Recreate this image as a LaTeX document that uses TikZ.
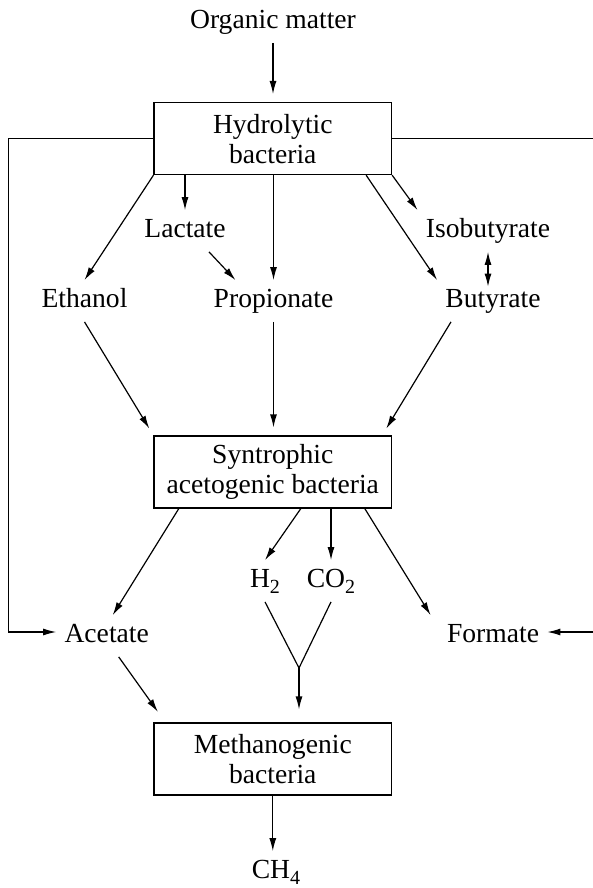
\documentclass[tikz,border=0pt]{standalone}
\usepackage{fontspec}
\setmainfont{Liberation Serif}
\usetikzlibrary{arrows.meta}
\newcommand{\chemsub}[1]{\raisebox{-0.45ex}{\fontsize{10}{10}\selectfont #1}}
\begin{document}
\begin{tikzpicture}[
    x=0.5pt, y=-0.5pt,
    box/.style={draw, line width=0.6pt, minimum width=118.75pt, minimum height=36pt, inner sep=0pt, align=center, font=\fontsize{13.8}{15}\selectfont},
    lbl/.style={inner sep=4pt, text height=9.5pt, text depth=3pt, font=\fontsize{13.8}{15}\selectfont},
    arrow/.style={-{Latex[length=6.5pt, width=3.5pt]}, line width=0.6pt},
    dblarrow/.style={{Latex[length=6.5pt, width=3.5pt]}-{Latex[length=6.5pt, width=3.5pt]}, line width=0.6pt},
    tobox/.style={arrow, shorten >=4pt}
]
    \useasboundingbox (0,0) rectangle (593,888);

    \node[lbl] (org) at (273, 22) {Organic matter};
    \node[box] (hyd) at (272.8, 138.6) {Hydrolytic\\bacteria};
    \node[lbl] (lac) at (185, 231) {Lactate};
    \node[lbl] (iso) at (488, 231) {Isobutyrate};
    \node[lbl] (eth) at (84.5, 301) {Ethanol};
    \node[lbl] (pro) at (273.5, 301) {Propionate};
    \node[lbl] (but) at (493, 301) {Butyrate};
    \node[box] (syn) at (272.8, 472) {Syntrophic\\acetogenic bacteria};
    \node[lbl] (h2) at (265, 581) {H\chemsub{2}};
    \node[lbl] (co2) at (331, 581) {CO\chemsub{2}};
    \node[lbl] (ace) at (106.7, 636) {Acetate};
    \node[lbl] (form) at (493, 636) {Formate};
    \node[box] (met) at (272.8, 759) {Methanogenic\\bacteria};
    \node[lbl] (ch4) at (276, 872) {CH\chemsub{4}};
    \coordinate (lft) at (8.7, 632);
    \coordinate (rgt) at (593, 138.6);
    \coordinate (frm) at (593, 632);
    \coordinate (yj) at (299, 668);

    \draw[tobox] (org.south) -- (org.south |- hyd.north);
    \draw[arrow] (hyd.west) -| (lft) -- (lft -| ace.west);
    \draw[line width=0.6pt] (hyd.east) -- (rgt);
    \draw[arrow] (hyd.south west) -- (eth.north);
    \draw[arrow] (hyd.south -| lac) -- (lac.north);
    \draw[arrow] ([xshift=12pt]lac.south) -- ([xshift=-19pt]pro.north);
    \draw[arrow] (hyd.south -| pro) -- (pro.north);
    \draw[arrow] ([xshift=-13pt]hyd.south east) -- (but.north west);
    \draw[arrow] (hyd.south east) -- (iso.north west);
    \draw[dblarrow] (iso.south) -- ([yshift=-3.25pt]iso.south |- but.north);
    \draw[tobox] (eth.south) -- (syn.north west);
    \draw[tobox] (pro.south) -- (pro.south |- syn.north);
    \draw[tobox] ([xshift=-21pt]but.south) -- ([xshift=-5pt]syn.north east);
    \draw[arrow] ([xshift=-47pt]syn.south) -- ([xshift=3pt]ace.north);
    \draw[arrow] ([xshift=14pt]syn.south) -- (h2.north);
    \draw[arrow] (syn.south -| co2) -- (co2.north);
    \draw[arrow] ([xshift=46pt]syn.south) -- ([xshift=-4pt]form.north west);
    \draw[line width=0.6pt] (h2.south) -- (yj) -- (co2.south);
    \draw[arrow, shorten >=6.5pt] (yj) -- (yj |- met.north);
    \draw[arrow, shorten >=6.5pt] ([xshift=6pt]ace.south) -- ([xshift=6pt]met.north west);
    \draw[arrow] (frm) -- (form.east |- frm);
    \draw[arrow] (met.south) -- (met.south |- ch4.north);
\end{tikzpicture}
\end{document}
